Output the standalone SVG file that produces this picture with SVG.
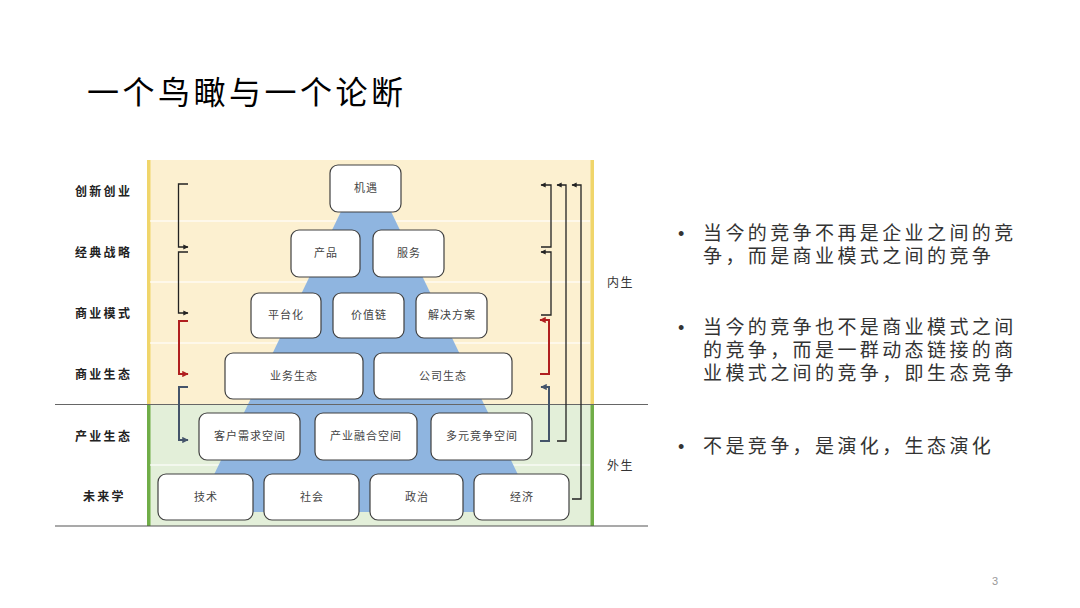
<svg xmlns="http://www.w3.org/2000/svg" width="1080" height="608" viewBox="0 0 1080 608">
<defs>
<style>
.box{fill:#fff;stroke:#404040;stroke-width:1.2}
.bt{font-family:"Noto Sans CJK SC",sans-serif;font-size:11px;fill:#444;text-anchor:middle;letter-spacing:1px}
.lbl{font-family:"Noto Sans CJK SC",sans-serif;font-size:12px;font-weight:bold;fill:#222;letter-spacing:2.3px}
.rt{font-family:"Liberation Sans","Noto Sans CJK SC",sans-serif;font-size:19px;fill:#333;letter-spacing:3.4px}
.bul{font-family:"Liberation Sans",sans-serif;font-size:18px;fill:#333}
.side{font-family:"Noto Sans CJK SC",sans-serif;font-size:12px;fill:#333;letter-spacing:1.5px}
.blk{fill:none;stroke:#222;stroke-width:1.3}
.red{fill:none;stroke:#b01f1f;stroke-width:2}
.sl{fill:none;stroke:#44546a;stroke-width:2}
.fl{stroke:#fff;stroke-opacity:0.75;stroke-width:1.5}
</style>
<marker id="ab" viewBox="0 0 10 10" refX="9" refY="5" markerWidth="4" markerHeight="4" orient="auto"><path d="M0,0 L10,5 L0,10 z" fill="#222"/></marker>
<marker id="ar" viewBox="0 0 10 10" refX="9" refY="5" markerWidth="3.2" markerHeight="3.2" orient="auto"><path d="M0,0 L10,5 L0,10 z" fill="#b01f1f"/></marker>
<marker id="as" viewBox="0 0 10 10" refX="9" refY="5" markerWidth="3.2" markerHeight="3.2" orient="auto"><path d="M0,0 L10,5 L0,10 z" fill="#44546a"/></marker>
</defs>
<rect width="1080" height="608" fill="#fff"/>
<text x="87" y="104" font-family="Noto Sans CJK SC,sans-serif" font-size="32" fill="#000" letter-spacing="3.5">一个鸟瞰与一个论断</text>
<g id="background">
<rect x="147" y="160" width="447" height="244" fill="#fcf0d0"/>
<rect x="147" y="404" width="447" height="122" fill="#e3efd9"/>
<rect x="147" y="160" width="3.5" height="244" fill="#f0d56a"/>
<rect x="590.5" y="160" width="3.5" height="244" fill="#f0d56a"/>
<rect x="147" y="404" width="3.5" height="122" fill="#70ad47"/>
<rect x="590.5" y="404" width="3.5" height="122" fill="#70ad47"/>
<line class="fl" x1="150" y1="221" x2="590" y2="221"/>
<line class="fl" x1="150" y1="282" x2="590" y2="282"/>
<line class="fl" x1="150" y1="343" x2="590" y2="343"/>
<line class="fl" x1="150" y1="465" x2="590" y2="465"/>
<polygon points="361,170 371,170 536,512 196,512" fill="#8fb5e0"/>
<line x1="55" y1="404.5" x2="648" y2="404.5" stroke="#666" stroke-width="1.2"/>
<line x1="55" y1="526" x2="648" y2="526" stroke="#555" stroke-width="1.2"/>
</g>
<g id="labels">
<text class="lbl" x="75" y="196">创新创业</text>
<text class="lbl" x="75" y="257">经典战略</text>
<text class="lbl" x="75" y="318">商业模式</text>
<text class="lbl" x="75" y="379">商业生态</text>
<text class="lbl" x="75" y="441">产业生态</text>
<text class="lbl" x="83" y="501">未来学</text>
<text class="side" x="607" y="287">内生</text>
<text class="side" x="607" y="470">外生</text>
</g>
<g id="n-jiyu"><rect class="box" x="330" y="165" width="71" height="47" rx="8"/><text class="bt" x="366" y="192">机遇</text></g>
<g id="n-chanpin"><rect class="box" x="291" y="230" width="69" height="47" rx="8"/><text class="bt" x="326" y="257">产品</text></g>
<g id="n-fuwu"><rect class="box" x="373" y="230" width="71" height="47" rx="8"/><text class="bt" x="409" y="257">服务</text></g>
<g id="n-pingtai"><rect class="box" x="251" y="293" width="70" height="45" rx="8"/><text class="bt" x="286" y="319">平台化</text></g>
<g id="n-jiazhi"><rect class="box" x="333" y="293" width="71" height="45" rx="8"/><text class="bt" x="369" y="319">价值链</text></g>
<g id="n-jiejue"><rect class="box" x="416" y="293" width="71" height="45" rx="8"/><text class="bt" x="452" y="319">解决方案</text></g>
<g id="n-yewu"><rect class="box" x="225" y="353" width="138" height="46" rx="8"/><text class="bt" x="294" y="380">业务生态</text></g>
<g id="n-gongsi"><rect class="box" x="374" y="353" width="138" height="46" rx="8"/><text class="bt" x="443" y="380">公司生态</text></g>
<g id="n-kehu"><rect class="box" x="199" y="413" width="101" height="47" rx="8"/><text class="bt" x="250" y="440">客户需求空间</text></g>
<g id="n-chanye"><rect class="box" x="315" y="413" width="102" height="47" rx="8"/><text class="bt" x="366" y="440">产业融合空间</text></g>
<g id="n-duoyuan"><rect class="box" x="431" y="413" width="101" height="47" rx="8"/><text class="bt" x="482" y="440">多元竞争空间</text></g>
<g id="n-jishu"><rect class="box" x="158" y="474" width="95" height="46" rx="8"/><text class="bt" x="206" y="501">技术</text></g>
<g id="n-shehui"><rect class="box" x="264" y="474" width="95" height="46" rx="8"/><text class="bt" x="312" y="501">社会</text></g>
<g id="n-zhengzhi"><rect class="box" x="370" y="474" width="93" height="46" rx="8"/><text class="bt" x="417" y="501">政治</text></g>
<g id="n-jingji"><rect class="box" x="474" y="474" width="95" height="46" rx="8"/><text class="bt" x="522" y="501">经济</text></g>
<g id="connectors">
<path class="blk" d="M188,184 H178.5 V247 H188" marker-end="url(#ab)"/>
<path class="blk" d="M188,252 H178.5 V313 H188" marker-end="url(#ab)"/>
<path class="red" d="M188,321 H179 V374 H188" marker-end="url(#ar)"/>
<path class="sl" d="M188,387 H179 V440 H188" marker-end="url(#as)"/>
<path class="blk" d="M541,247 H551 V185 H541" marker-end="url(#ab)"/>
<path class="blk" d="M541,315 H551 V252 H541" marker-end="url(#ab)"/>
<path class="red" d="M540,374 H549 V320 H540" marker-end="url(#ar)"/>
<path class="sl" d="M540,441 H549 V387 H541" marker-end="url(#as)"/>
<path class="blk" d="M557,441 H566 V185 H557" marker-end="url(#ab)"/>
<path class="blk" d="M572,499 H581 V185 H572" marker-end="url(#ab)"/>
</g>
<g id="bullets">
<text class="bul" x="678" y="240">•</text>
<text class="rt" x="703" y="240">当今的竞争不再是企业之间的竞</text>
<text class="rt" x="703" y="263">争，而是商业模式之间的竞争</text>
<text class="bul" x="678" y="334">•</text>
<text class="rt" x="703" y="334">当今的竞争也不是商业模式之间</text>
<text class="rt" x="703" y="357">的竞争，而是一群动态链接的商</text>
<text class="rt" x="703" y="380">业模式之间的竞争，即生态竞争</text>
<text class="bul" x="678" y="453">•</text>
<text class="rt" x="703" y="453">不是竞争，是演化，生态演化</text>
</g>
<text x="992" y="585" font-family="Liberation Sans,sans-serif" font-size="11" fill="#999">3</text>
</svg>
